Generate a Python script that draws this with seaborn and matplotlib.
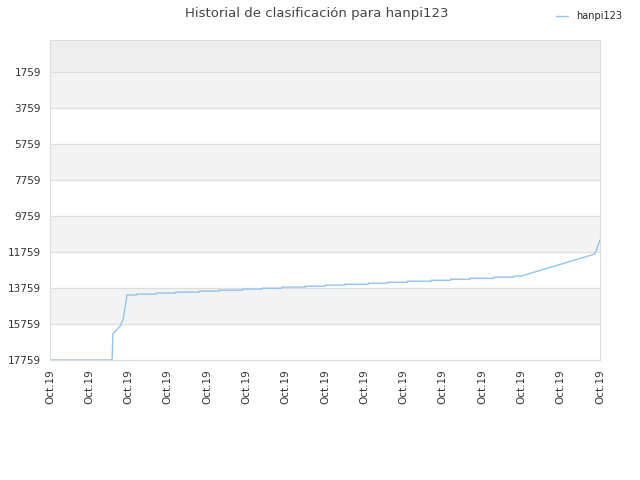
import matplotlib
matplotlib.use("Agg")
import matplotlib.pyplot as plt
import seaborn as sns
import pandas as pd

# ranking history (x in day units, rank value)
days = [0, 15.8, 16.0, 17.8, 18.6, 19.3, 19.6, 22, 22, 27, 27, 32, 32, 38, 38, 43, 43,
        49, 49, 54, 54, 59, 59, 65, 65, 70, 70, 75, 75, 81, 81, 86, 86, 91, 91,
        97, 97, 102, 102, 107, 107, 113, 113, 118, 118, 120, 138.7, 140]
ranks = [17759, 17759, 16300, 15900, 15500, 14600, 14150, 14150, 14100, 14100, 14040,
         14040, 13990, 13990, 13930, 13930, 13880, 13880, 13820, 13820, 13770, 13770,
         13710, 13710, 13660, 13660, 13600, 13600, 13550, 13550, 13490, 13490, 13440,
         13440, 13380, 13380, 13330, 13330, 13270, 13270, 13220, 13220, 13160, 13160,
         13100, 13092, 11870, 11092]
y_ticks = [1759, 3759, 5759, 7759, 9759, 11759, 13759, 15759, 17759]
x_ticks = [0, 10, 20, 30, 40, 50, 60, 70, 80, 90, 100, 110, 120, 130, 140]
x_labels = ["Oct.19"] * len(x_ticks)

df = pd.DataFrame({"day": days, "rank": ranks})

sns.set_style("white")
fig = plt.figure(figsize=(6.4, 4.8), dpi=100)
ax = fig.add_axes([50 / 640, 120 / 480, 550 / 640, 320 / 480])

# background bands
ax.axhspan(-18, 1759, color="#eeeeee", zorder=0)
for lo in [1759, 5759, 9759, 13759]:
    ax.axhspan(lo, lo + 2000, color="#f3f3f3", zorder=0)

sns.lineplot(data=df, x="day", y="rank", estimator=None, sort=False,
             color="#90c4f4", linewidth=1, ax=ax, label="hanpi123", legend=False)

ax.set_xlim(0, 140)
ax.set_ylim(17759, -18)
ax.set_yticks(y_ticks)
ax.set_yticklabels([str(v) for v in y_ticks])
ax.set_xticks(x_ticks)
ax.set_xticklabels(x_labels, rotation=90)
ax.tick_params(labelsize=7.5, colors="#333333", length=3, color="#cccccc")
ax.grid(axis="y", color="#dddddd", linewidth=0.8)
ax.set_axisbelow(True)
ax.set_xlabel("")
ax.set_ylabel("")
for s in ax.spines.values():
    s.set_color("#dddddd")

fig.text(0.495, 1 - 13 / 480, "Historial de clasificación para hanpi123",
         ha="center", va="center", fontsize=9.5, color="#444444")
fig.legend(loc="upper right", bbox_to_anchor=(0.985, 0.995), frameon=False,
           fontsize=7, handlelength=1.2)

fig.savefig("out.png", dpi=100)
